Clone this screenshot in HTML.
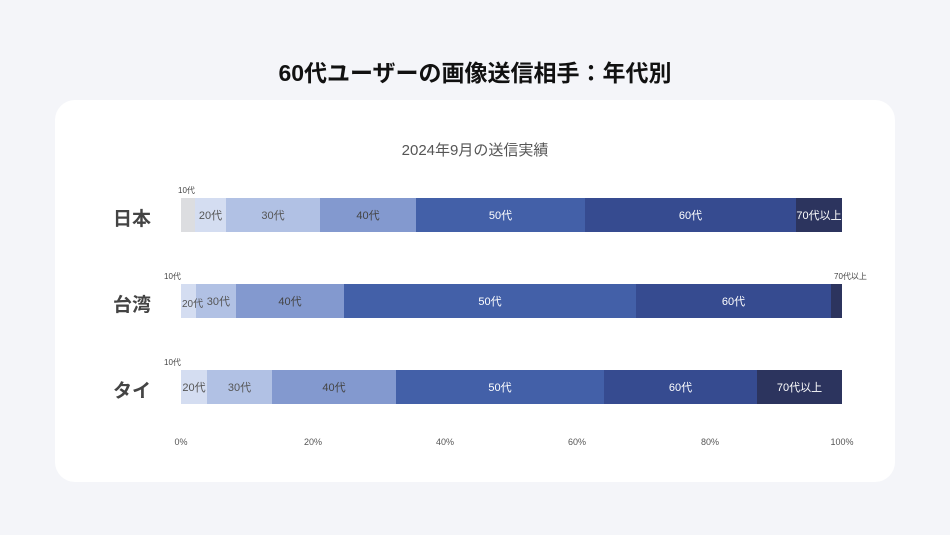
<!DOCTYPE html>
<html><head><meta charset="utf-8"><style>
body{margin:0;width:950px;height:535px;background:#f4f5f9;font-family:"Liberation Sans","Noto Sans CJK JP",sans-serif;position:relative;overflow:hidden}
.t{position:absolute;white-space:nowrap}
.card{position:absolute;left:55px;top:100px;width:840px;height:382px;background:#fff;border-radius:20px}
.seg{position:absolute;height:34px;display:flex;align-items:center;justify-content:center;font-size:11px;overflow:visible;white-space:nowrap}
.c{font-size:19px;font-weight:bold;color:#444;left:113px}
.s{font-size:8px;color:#444}
.ax{font-size:9px;color:#555;top:437px;transform:translateX(-50%)}
</style></head><body>
<div class="t" style="left:0;width:950px;text-align:center;top:54px;font-size:23px;font-weight:bold;color:#111">60代ユーザーの画像送信相手：年代別</div>
<div class="card"></div>
<div class="t" style="left:0;width:950px;text-align:center;top:139px;font-size:15px;color:#555">2024年9月の送信実績</div>

<div class="t c" style="top:204px">日本</div>
<div class="t c" style="top:290px">台湾</div>
<div class="t c" style="top:376px">タイ</div>

<!-- Japan -->
<div class="t s" style="left:178px;top:185px">10代</div>
<div class="seg" style="top:198px;left:181px;width:14px;background:#dcdde0"></div>
<div class="seg" style="top:198px;left:195px;width:31px;background:#d4ddf1;color:#555">20代</div>
<div class="seg" style="top:198px;left:226px;width:94px;background:#b1c1e4;color:#555">30代</div>
<div class="seg" style="top:198px;left:320px;width:96px;background:#8399cf;color:#444">40代</div>
<div class="seg" style="top:198px;left:416px;width:169px;background:#4360a8;color:#fff">50代</div>
<div class="seg" style="top:198px;left:585px;width:211px;background:#364b90;color:#fff">60代</div>
<div class="seg" style="top:198px;left:796px;width:46px;background:#2c345e;color:#fff">70代以上</div>

<!-- Taiwan -->
<div class="t s" style="left:164px;top:271px">10代</div>
<div class="t s" style="left:834px;top:271px">70代以上</div>
<div class="seg" style="top:284px;left:181px;width:15px;background:#d4ddf1"></div>
<div class="seg" style="top:284px;left:196px;width:40px;background:#b1c1e4;color:#555;justify-content:flex-end;padding-right:6px;box-sizing:border-box">30代</div>
<div class="t" style="top:295px;left:182px;font-size:10px;color:#555">20代</div>
<div class="seg" style="top:284px;left:236px;width:108px;background:#8399cf;color:#444">40代</div>
<div class="seg" style="top:284px;left:344px;width:292px;background:#4360a8;color:#fff">50代</div>
<div class="seg" style="top:284px;left:636px;width:195px;background:#364b90;color:#fff">60代</div>
<div class="seg" style="top:284px;left:831px;width:11px;background:#2c345e"></div>

<!-- Thai -->
<div class="t s" style="left:164px;top:357px">10代</div>
<div class="seg" style="top:370px;left:181px;width:26px;background:#d4ddf1;color:#555">20代</div>
<div class="seg" style="top:370px;left:207px;width:65px;background:#b1c1e4;color:#555">30代</div>
<div class="seg" style="top:370px;left:272px;width:124px;background:#8399cf;color:#444">40代</div>
<div class="seg" style="top:370px;left:396px;width:208px;background:#4360a8;color:#fff">50代</div>
<div class="seg" style="top:370px;left:604px;width:153px;background:#364b90;color:#fff">60代</div>
<div class="seg" style="top:370px;left:757px;width:85px;background:#2c345e;color:#fff">70代以上</div>

<div class="t ax" style="left:181px">0%</div>
<div class="t ax" style="left:313px">20%</div>
<div class="t ax" style="left:445px">40%</div>
<div class="t ax" style="left:577px">60%</div>
<div class="t ax" style="left:710px">80%</div>
<div class="t ax" style="left:842px">100%</div>
</body></html>
